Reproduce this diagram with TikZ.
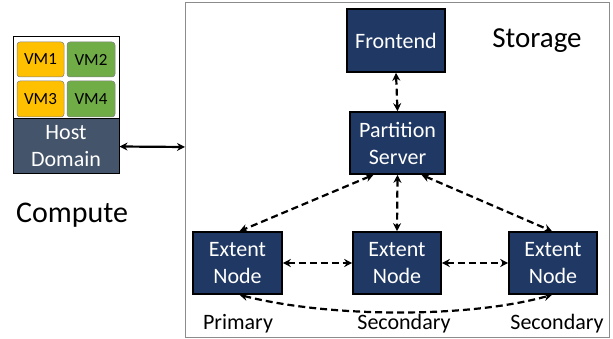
\documentclass[tikz,border=0pt]{standalone}
\usepackage{fontspec}
\setmainfont{Carlito}
\usetikzlibrary{arrows.meta}
\definecolor{navy}{HTML}{203864}
\definecolor{slate}{HTML}{44546A}
\definecolor{amber}{HTML}{FFC000}
\definecolor{leaf}{HTML}{70AD47}
\tikzset{
  box/.style={draw=black, line width=1.6pt, fill=navy, text=white, font=\fontsize{22}{27}\selectfont, align=center, inner sep=0pt},
  vm/.style={draw=black!50, line width=0.5pt, fill=#1, rounded corners=3pt, font=\fontsize{17}{18}\selectfont, inner sep=0pt},
  link/.style={line width=2.2pt, dash pattern=on 7pt off 4pt, {Stealth[length=8pt,width=8pt]}-{Stealth[length=8pt,width=8pt]}},
  lbl/.style={font=\fontsize{22}{24}\selectfont, inner sep=0pt}
}
\begin{document}
\begin{tikzpicture}[x=1pt,y=-1pt]
\useasboundingbox (0,0) rectangle (613,339);
% storage frame
\node[draw=black!45, line width=1pt, minimum width=424pt, minimum height=334pt, inner sep=0pt] (storage) at (397,170) {};
\node[lbl, font=\fontsize{29}{30}\selectfont] (stlabel) at (537,41) {Storage};
% compute
\node[draw=black, line width=1pt, fill=white, minimum width=106pt, minimum height=137pt, inner sep=0pt] (compute) at (66,105.5) {};
\node[vm=amber, minimum width=47pt, minimum height=35pt] (vm1) at (40.5,59.5) {VM1};
\node[vm=leaf, minimum width=48pt, minimum height=35pt] (vm2) at (91,59.5) {VM2};
\node[vm=amber, minimum width=47pt, minimum height=36pt] (vm3) at (40.5,99) {VM3};
\node[vm=leaf, minimum width=48pt, minimum height=36pt] (vm4) at (91,99) {VM4};
\node[draw=black, line width=1pt, fill=slate, text=white, minimum width=106pt, minimum height=55pt, inner sep=0pt, align=center, font=\fontsize{22}{27}\selectfont] (host) at (66,146.5) {Host\\Domain};
\node[lbl, font=\fontsize{30}{32}\selectfont] (cplabel) at (72,215) {Compute};
\coordinate (stleft) at (185,147);
\draw[line width=2.2pt, {Stealth[length=8pt,width=8pt]}-{Stealth[length=8pt,width=8pt]}] (host.east) -- (stleft);
% storage nodes
\node[box, minimum width=98pt, minimum height=63pt] (fe) at (396,40.5) {Frontend};
\node[box, minimum width=95pt, minimum height=62pt] (ps) at (397.5,143) {Partition\\Server};
\node[box, minimum width=89pt, minimum height=62pt] (en1) at (237.5,263) {Extent\\Node};
\node[box, minimum width=88pt, minimum height=62pt] (en2) at (397,263) {Extent\\Node};
\node[box, minimum width=88pt, minimum height=62pt] (en3) at (553,263) {Extent\\Node};
\node[lbl] (l1) at (238,324) {Primary};
\node[lbl] (l2) at (404,324) {Secondary};
\node[lbl] (l3) at (557,324) {Secondary};
% links
\draw[link] (fe.south) -- (ps.north);
\draw[link] ([xshift=-24pt]ps.south) -- ([xshift=2pt]en1.north);
\draw[link] (ps.south) -- (en2.north);
\draw[link] ([xshift=24pt]ps.south) -- ([xshift=-1pt]en3.north);
\draw[link] (en1.east) -- (en2.west);
\draw[link] (en2.east) -- (en3.west);
\draw[link] ([xshift=2pt]en1.south) .. controls (330,318) and (470,318) .. ([xshift=-1pt]en3.south);
\end{tikzpicture}
\end{document}
